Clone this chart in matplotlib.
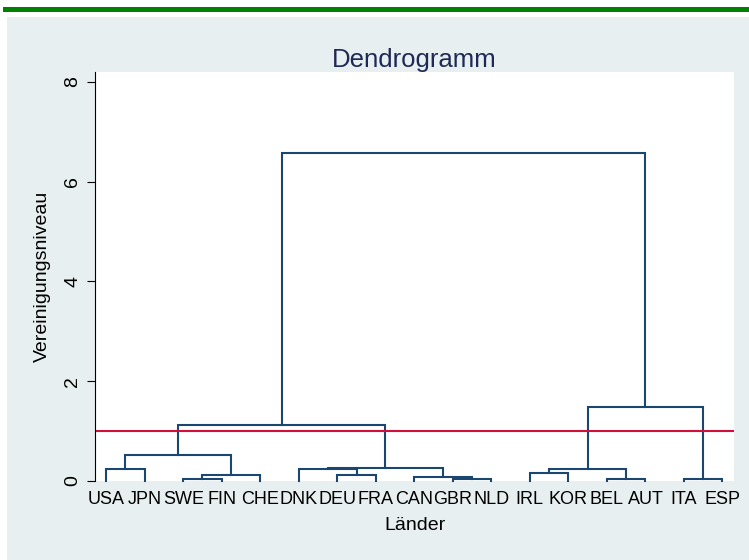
import matplotlib.pyplot as plt
from matplotlib.patches import Rectangle

plt.rcParams['font.family'] = ['Liberation Sans', 'DejaVu Sans']

# leaf order as shown on the x axis
laender = ['USA', 'JPN', 'SWE', 'FIN', 'CHE', 'DNK', 'DEU', 'FRA', 'CAN',
           'GBR', 'NLD', 'IRL', 'KOR', 'BEL', 'AUT', 'ITA', 'ESP']

# merges: (left member, right member, height); members are leaf names or
# earlier merge indices (as 'm0', 'm1', ...)
merges = [
    ('USA', 'JPN', 0.24),    # m0
    ('SWE', 'FIN', 0.046),   # m1
    ('m1', 'CHE', 0.127),    # m2
    ('m0', 'm2', 0.53),      # m3
    ('DEU', 'FRA', 0.115),   # m4
    ('DNK', 'm4', 0.235),    # m5
    ('GBR', 'NLD', 0.035),   # m6
    ('CAN', 'm6', 0.087),    # m7
    ('m5', 'm7', 0.26),      # m8
    ('m3', 'm8', 1.13),      # m9
    ('IRL', 'KOR', 0.167),   # m10
    ('BEL', 'AUT', 0.035),   # m11
    ('m10', 'm11', 0.235),   # m12
    ('ITA', 'ESP', 0.035),   # m13
    ('m12', 'm13', 1.48),    # m14
    ('m9', 'm14', 6.57),     # m15
]
schwelle = 1.0

navy = '#1a476f'
bg = '#e8eff1'

fig = plt.figure(figsize=(7.49, 5.6), dpi=100)
fig.patch.set_facecolor('white')
fig.add_artist(Rectangle((7 / 749, 0), 1, 1 - 17 / 560, transform=fig.transFigure,
                         facecolor=bg, edgecolor='none', zorder=-5))
fig.add_artist(Rectangle((3 / 749, 1 - 12 / 560), 1, 5 / 560, transform=fig.transFigure,
                         facecolor='#008000', edgecolor='none', zorder=-5))

ax = fig.add_axes([95 / 749, 1 - 481 / 560, (734 - 95) / 749, (481 - 72) / 560])
ax.set_zorder(2)
ax.set_facecolor('white')

pos = {name: (i, 0.0) for i, name in enumerate(laender)}
for k, (a, b, h) in enumerate(merges):
    xa, ya = pos[a]
    xb, yb = pos[b]
    ax.plot([xa, xa, xb, xb], [ya, h, h, yb], color=navy, lw=1.5,
            solid_joinstyle='miter', clip_on=False)
    pos['m%d' % k] = ((xa + xb) / 2, h)

ax.axhline(schwelle, color='#d0103a', lw=1.5)

ax.set_xlim(-0.29, 16.3)
ax.set_ylim(0, 8.2)
ax.set_xticks(range(len(laender)))
ax.set_xticklabels(laender, fontsize=13)
ax.tick_params(axis='x', length=0, pad=7)
ax.set_yticks([0, 2, 4, 6, 8])
ax.tick_params(axis='y', length=6, width=0.8, labelsize=14, pad=4)
for t in ax.get_yticklabels():
    t.set_rotation(90)
    t.set_va('center')

for s in ['top', 'right', 'bottom']:
    ax.spines[s].set_visible(False)
ax.spines['left'].set_linewidth(0.8)

ax.set_title('Dendrogramm', fontsize=18.5, color='#1e2a55', pad=3.5)
ax.set_xlabel('Länder', fontsize=14, labelpad=7)
ax.set_ylabel('Vereinigungsniveau', fontsize=14, labelpad=9.5)

fig.savefig('out.png', dpi=100, facecolor=fig.get_facecolor())
